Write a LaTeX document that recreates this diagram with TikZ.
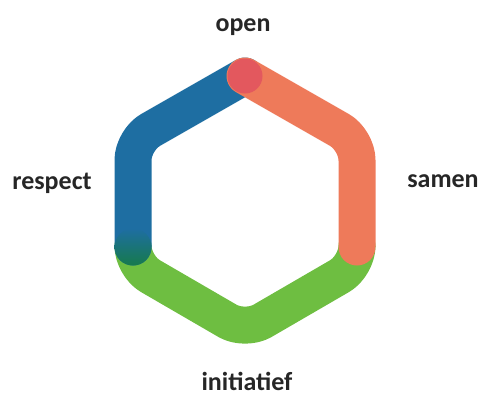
\documentclass[tikz,border=0pt]{standalone}
\usepackage{fontspec}
\setmainfont{Carlito}
\definecolor{hexblue}{HTML}{1E6EA2}
\definecolor{hexorange}{HTML}{EE7A5A}
\definecolor{hexgreen}{HTML}{6EBE41}
\definecolor{hexdkgreen}{HTML}{167A4C}
\definecolor{hexred}{HTML}{E3585E}
\definecolor{labelgray}{HTML}{262626}
\tikzset{
  band/.style={line width=37pt, line cap=round, line join=round, rounded corners=20pt},
  lbl/.style={font=\bfseries\fontsize{26}{30}\selectfont, text=labelgray, anchor=base, inner sep=0pt},
}
\begin{document}
\begin{tikzpicture}[x=1pt,y=-1pt]
\useasboundingbox (0,0) rectangle (479,397);
% hexagon vertices
\coordinate (T) at (245,76);
\coordinate (UL) at (133,140);
\coordinate (LL) at (133,266);
\coordinate (B) at (245,331);
\coordinate (LR) at (357,266);
\coordinate (UR) at (357,140);
\coordinate (Lend) at (133,247);
\coordinate (Rend) at (357,247);
% bands
\draw[band, hexgreen] (Lend) -- (LL) -- (B) -- (LR) -- (Rend);
\draw[band, hexblue] (T) -- (UL) -- (Lend);
\shade[top color=hexblue, middle color=hexdkgreen, bottom color=hexdkgreen] (Lend) circle[radius=18.5];
\draw[band, hexorange] (T) -- (UR) -- (Rend);
\fill[hexred] (T) circle[radius=17.5];
% labels
\node[lbl] (open) at (243,31) {open};
\node[lbl] (samen) at (443,187) {samen};
\node[lbl] (respect) at (52,189) {respect};
\node[lbl] (init) at (247,390) {initiatief};
\end{tikzpicture}
\end{document}
